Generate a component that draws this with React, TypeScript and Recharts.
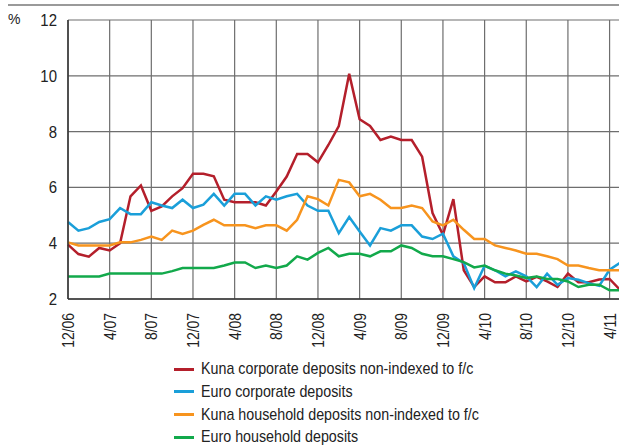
import { CartesianGrid, Line, LineChart, XAxis, YAxis } from 'recharts';

// monthly, 12/06 .. 5/11
const kunaCorporate = [
  3.95, 3.61, 3.52, 3.83, 3.74, 4.0, 5.68, 6.07, 5.16, 5.32, 5.68, 5.97, 6.49, 6.49, 6.4, 5.56, 5.47, 5.47,
  5.47, 5.35, 5.85, 6.39, 7.2, 7.2, 6.9, 7.52, 8.2, 10.07, 8.44, 8.2, 7.7, 7.82, 7.7, 7.7, 7.1, 5.08,
  4.3, 5.58, 3.03, 2.43, 2.81, 2.6, 2.6, 2.81, 2.63, 2.79, 2.63, 2.43, 2.91, 2.6, 2.6, 2.7, 2.72, 2.33,
];
const euroCorporate = [
  4.76, 4.45, 4.54, 4.76, 4.86, 5.26, 5.04, 5.04, 5.47, 5.35, 5.26, 5.56, 5.26, 5.38, 5.77, 5.35, 5.77, 5.77,
  5.35, 5.68, 5.56, 5.68, 5.77, 5.35, 5.16, 5.16, 4.36, 4.94, 4.42, 3.92, 4.54, 4.45, 4.64, 4.64, 4.24, 4.15,
  4.34, 3.53, 3.29, 2.39, 3.19, 3.03, 2.81, 2.99, 2.81, 2.43, 2.91, 2.51, 2.75, 2.69, 2.57, 2.47, 3.05, 3.3,
];
const kunaHousehold = [
  4.03, 3.92, 3.92, 3.92, 3.92, 4.03, 4.03, 4.12, 4.24, 4.12, 4.45, 4.33, 4.45, 4.66, 4.84, 4.64, 4.64, 4.64,
  4.54, 4.64, 4.64, 4.45, 4.84, 5.68, 5.58, 5.35, 6.27, 6.18, 5.68, 5.77, 5.56, 5.26, 5.26, 5.35, 5.26, 4.78,
  4.64, 4.84, 4.48, 4.15, 4.15, 3.92, 3.83, 3.74, 3.62, 3.62, 3.53, 3.43, 3.2, 3.2, 3.11, 3.03, 3.03, 3.03,
];
const euroHousehold = [
  2.81, 2.81, 2.81, 2.81, 2.91, 2.91, 2.91, 2.91, 2.91, 2.91, 3.0, 3.11, 3.11, 3.11, 3.11, 3.2, 3.31, 3.31,
  3.11, 3.2, 3.11, 3.2, 3.53, 3.41, 3.65, 3.83, 3.53, 3.62, 3.62, 3.53, 3.71, 3.71, 3.92, 3.83, 3.62, 3.53,
  3.53, 3.43, 3.32, 3.13, 3.2, 3.03, 2.91, 2.84, 2.75, 2.81, 2.72, 2.72, 2.63, 2.43, 2.51, 2.51, 2.31, 2.31,
];

const tickLabels = ['12/06', '4/07', '8/07', '12/07', '4/08', '8/08', '12/08', '4/09', '8/09', '12/09', '4/10', '8/10', '12/10', '4/11'];
const xTicks = tickLabels.map((_, k) => k * 4);
const yTicks = [2, 4, 6, 8, 10, 12];

const series = [
  { key: 'kc', name: 'Kuna corporate deposits non-indexed to f/c', color: '#b41f2b' },
  { key: 'ec', name: 'Euro corporate deposits', color: '#1a9fd9' },
  { key: 'kh', name: 'Kuna household deposits non-indexed to f/c', color: '#f7941e' },
  { key: 'eh', name: 'Euro household deposits', color: '#12a94b' },
];

const data = kunaCorporate.map((v, i) => ({
  i,
  kc: v,
  ec: euroCorporate[i],
  kh: kunaHousehold[i],
  eh: euroHousehold[i],
}));

const FONT = "'Liberation Sans', Arial, sans-serif";

// narrow look: squeeze the text along its own direction
function XTick({ x, y, payload }: any) {
  const label = tickLabels[Math.round(payload.value / 4)];
  return (
    <text
      transform={`translate(${x} ${y}) rotate(-90) scale(0.82 1)`}
      textAnchor="end"
      dy="0.35em"
      fontSize={17}
      fontFamily={FONT}
      fill="#222"
    >
      {label}
    </text>
  );
}

function YTick({ x, y, payload }: any) {
  return (
    <text
      transform={`translate(${x} ${y}) scale(0.88 1)`}
      textAnchor="end"
      dy="0.35em"
      fontSize={17}
      fontFamily={FONT}
      fill="#222"
    >
      {payload.value}
    </text>
  );
}

export default function App() {
  return (
    <div style={{ position: 'absolute', left: 0, top: 0, width: 619, height: 446, overflow: 'hidden', background: '#fff', fontFamily: FONT }}>
      <div style={{ position: 'absolute', left: 8, top: 4, width: 611, height: 2, background: '#9a9a9a' }} />
      <span style={{ position: 'absolute', left: 8, top: 11, fontSize: 14, color: '#222' }}>%</span>
      <LineChart width={622} height={446} data={data} margin={{ top: 20, right: 2, left: 0, bottom: 0 }}>
        <CartesianGrid stroke="#6e6e6e" strokeWidth={1.2} />
        <XAxis
          dataKey="i"
          type="number"
          domain={[0, 53]}
          ticks={xTicks}
          height={147}
          tickSize={0}
          tickMargin={14}
          tick={<XTick />}
          axisLine={{ stroke: '#333', strokeWidth: 1.5 }}
          tickLine={false}
          interval={0}
        />
        <YAxis
          type="number"
          domain={[2, 12]}
          ticks={yTicks}
          width={68}
          tickSize={0}
          tickMargin={11}
          tick={<YTick />}
          axisLine={{ stroke: '#333', strokeWidth: 1.5 }}
          tickLine={false}
          interval={0}
        />
        {series.map((s) => (
          <Line
            key={s.key}
            type="linear"
            dataKey={s.key}
            name={s.name}
            stroke={s.color}
            strokeWidth={2.5}
            dot={false}
            isAnimationActive={false}
          />
        ))}
      </LineChart>
      {series.map((s, k) => (
        <div
          key={s.key}
          style={{ position: 'absolute', left: 174, top: 358 + k * 22.8, height: 22, display: 'flex', alignItems: 'center' }}
        >
          <span style={{ display: 'inline-block', width: 20, height: 3, background: s.color, marginRight: 7 }} />
          <span
            style={{
              display: 'inline-block',
              fontSize: 17,
              color: '#222',
              lineHeight: '22px',
              whiteSpace: 'nowrap',
              transform: 'scaleX(0.84)',
              transformOrigin: 'left center',
            }}
          >
            {s.name}
          </span>
        </div>
      ))}
    </div>
  );
}
